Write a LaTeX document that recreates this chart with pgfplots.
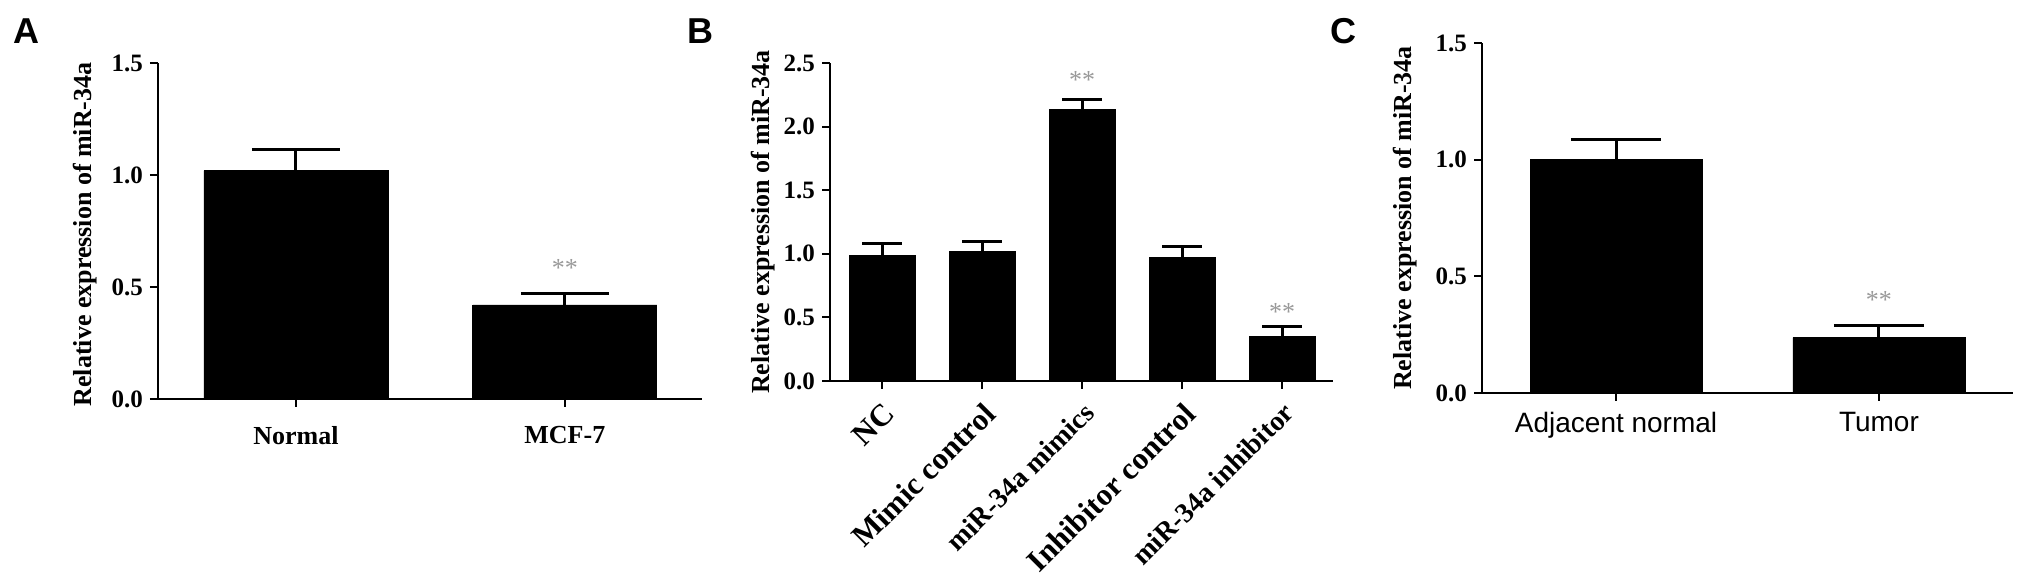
\documentclass[border=0pt]{standalone}
\usepackage{fontspec}
\setmainfont{Liberation Serif}
\setsansfont{Liberation Sans}
\usepackage{pgfplots}
\pgfplotsset{compat=1.18}

% GraphPad-like panel style
\pgfplotsset{
  gp/.style={
    scale only axis, anchor=south west, clip=false,
    axis lines=left, axis line style={-, line width=1pt},
    tick align=outside, major tick length=4pt,
    tick style={line width=1pt, black},
    ybar, ymin=0, xtick=data,
    /pgf/number format/assume math mode=true,
    yticklabel style={/pgf/number format/fixed, /pgf/number format/fixed zerofill,
      /pgf/number format/precision=1, font=\fontsize{12.5}{12.5}\selectfont\bfseries},
    xticklabel style={font=\fontsize{13}{13}\selectfont\bfseries},
    ylabel={Relative expression of miR-34a},
    ylabel style={font=\fontsize{13}{13}\selectfont\bfseries, anchor=center},
  },
  bars/.style={fill=black, draw=black,
    error bars/.cd, y dir=plus, y explicit,
    error bar style={line width=1.5pt, black},
    error mark options={rotate=90, mark size=#1, line width=1.5pt, black}},
}
\tikzset{stars/.style={text=black!40, font=\fontsize{13}{13}\selectfont, anchor=center},
  letter/.style={font=\fontsize{18}{18}\sffamily\bfseries}}
\newcommand{\lbig}{\fontsize{15.5}{15.5}\selectfont}
\newcommand{\lmid}{\fontsize{14}{14}\selectfont}

\begin{document}
\begin{tikzpicture}
\useasboundingbox (0,0) rectangle (1015.5pt,290.5pt);

% panel letters
\node[letter] at (13pt,275pt) {A};
\node[letter] at (350pt,275pt) {B};
\node[letter] at (671.5pt,275pt) {C};

% A
\begin{axis}[gp, at={(79pt,91pt)}, width=272pt, height=168pt,
  xmin=0.487, xmax=2.51, ymax=1.5, ytick={0,0.5,1,1.5},
  bar width=0.684,
  xticklabels={Normal, MCF-7},
  xticklabel style={yshift=-6pt},
  ylabel style={at={(axis description cs:-0.134,0.49)}},
]
\addplot[bars=22pt] coordinates {(1,1.02) +- (0,0.093) (2,0.42) +- (0,0.052)};
\node[stars] at (axis cs:2,0.585) {**};
\end{axis}

% B
\begin{axis}[gp, at={(415pt,100pt)}, width=251.5pt, height=159pt,
  xmin=0.48, xmax=5.51, ymax=2.5, ytick={0,0.5,1,1.5,2,2.5},
  bar width=0.66,
  xticklabels={{\lbig NC}, {\lbig Mimic control}, {\lmid miR-34a mimics},
    {\lbig Inhibitor control}, {\lmid miR-34a inhibitor}},
  xticklabel style={rotate=45, anchor=north east, inner sep=4pt},
  ylabel style={at={(axis description cs:-0.133,0.5)}},
]
\addplot[bars=10pt] coordinates {(1,0.99) +- (0,0.09) (2,1.02) +- (0,0.08)
  (3,2.135) +- (0,0.08) (4,0.97) +- (0,0.085) (5,0.35) +- (0,0.075)};
\node[stars] at (axis cs:3,2.37) {**};
\node[stars] at (axis cs:5,0.54) {**};
\end{axis}

% C
\begin{axis}[gp, at={(741pt,94pt)}, width=265.5pt, height=175pt,
  xmin=0.49, xmax=2.51, ymax=1.5, ytick={0,0.5,1,1.5},
  bar width=0.654,
  xticklabels={Adjacent normal, Tumor},
  xticklabel style={font=\fontsize{14}{14}\selectfont\sffamily\mdseries, yshift=-2pt},
  ylabel style={at={(axis description cs:-0.145,0.5)}},
]
\addplot[bars=22.5pt] coordinates {(1,1.0) +- (0,0.086) (2,0.237) +- (0,0.054)};
\node[stars] at (axis cs:2,0.40) {**};
\end{axis}
\end{tikzpicture}
\end{document}
